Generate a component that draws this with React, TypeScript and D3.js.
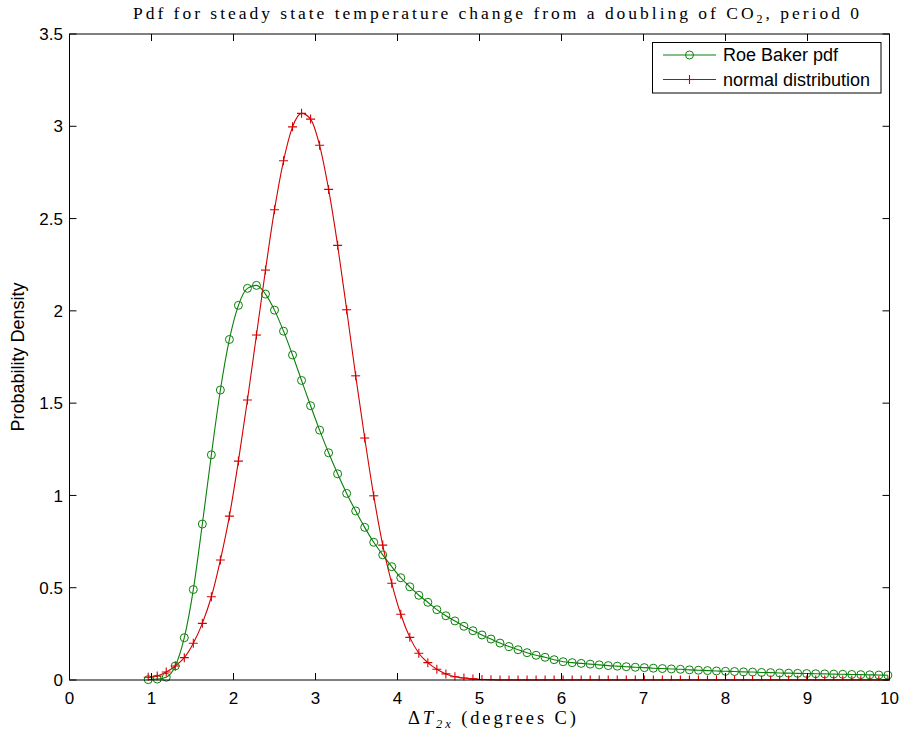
import React from "react";
import * as d3 from "d3";

const xValues = [0.96, 1.07, 1.18, 1.29, 1.40, 1.51, 1.62, 1.73, 1.84, 1.95, 2.06, 2.17, 2.28, 2.39, 2.50, 2.61, 2.72, 2.83, 2.94, 3.05, 3.16, 3.27, 3.38, 3.49, 3.60, 3.71, 3.82, 3.93, 4.04, 4.15, 4.26, 4.37, 4.48, 4.59, 4.70, 4.81, 4.92, 5.03, 5.14, 5.25, 5.36, 5.47, 5.58, 5.69, 5.80, 5.91, 6.02, 6.13, 6.24, 6.35, 6.46, 6.57, 6.68, 6.79, 6.90, 7.01, 7.12, 7.23, 7.34, 7.45, 7.56, 7.67, 7.78, 7.89, 8.00, 8.11, 8.22, 8.33, 8.44, 8.55, 8.66, 8.77, 8.88, 8.99, 9.10, 9.21, 9.32, 9.43, 9.54, 9.65, 9.76, 9.87, 9.98];

const roeBaker = [0.002, 0.005, 0.015, 0.076, 0.229, 0.49, 0.845, 1.22, 1.571, 1.845, 2.03, 2.122, 2.138, 2.091, 2.004, 1.89, 1.761, 1.623, 1.486, 1.354, 1.231, 1.117, 1.011, 0.916, 0.827, 0.746, 0.678, 0.614, 0.554, 0.505, 0.459, 0.421, 0.381, 0.348, 0.32, 0.291, 0.267, 0.244, 0.222, 0.2, 0.181, 0.164, 0.148, 0.134, 0.123, 0.11, 0.099, 0.094, 0.09, 0.086, 0.082, 0.078, 0.075, 0.072, 0.069, 0.067, 0.064, 0.062, 0.06, 0.058, 0.055, 0.053, 0.051, 0.049, 0.047, 0.046, 0.044, 0.043, 0.041, 0.04, 0.038, 0.037, 0.036, 0.035, 0.034, 0.033, 0.032, 0.031, 0.03, 0.029, 0.028, 0.027, 0.026];

const normalDist = [0.015, 0.022, 0.043, 0.076, 0.121, 0.199, 0.307, 0.451, 0.65, 0.888, 1.186, 1.517, 1.869, 2.221, 2.548, 2.813, 2.997, 3.07, 3.039, 2.897, 2.658, 2.355, 2.006, 1.648, 1.311, 0.998, 0.731, 0.524, 0.356, 0.231, 0.145, 0.094, 0.058, 0.033, 0.018, 0.011, 0.006, 0.003, 0.001, 0, 0, 0, 0, 0, 0, 0, 0, 0, 0, 0, 0, 0, 0, 0, 0, 0, 0, 0, 0, 0, 0, 0, 0, 0, 0, 0, 0, 0, 0, 0, 0, 0, 0, 0, 0, 0, 0, 0, 0, 0, 0, 0, 0];

const xTicks = [0, 1, 2, 3, 4, 5, 6, 7, 8, 9, 10];
const yTicks = [0, 0.5, 1, 1.5, 2, 2.5, 3, 3.5];
const seriesNames = ["Roe Baker pdf", "normal distribution"];

const W = 903, H = 735;
const L = 69.5, R = 889.5, T = 34, B = 680;
const GREEN = "#0a800a";
const RED = "#d40000";
const SANS = "'Liberation Sans', Arial, Helvetica, sans-serif";
const SERIF = "'Liberation Serif', 'Times New Roman', serif";

export default function App() {
  const x = d3.scaleLinear().domain([0, 10]).range([L, R]);
  const y = d3.scaleLinear().domain([0, 3.5]).range([B, T]);
  const line = d3
    .line<number>()
    .x((_, i) => x(xValues[i]))
    .y((d) => y(d))
    .curve(d3.curveMonotoneX);
  const tickLen = 7;
  const plus = 4.5;
  return (
    <svg
      width={W}
      height={H}
      style={{ position: "absolute", left: 0, top: 0, background: "#fff" }}
    >
      <rect x={0} y={0} width={W} height={H} fill="#fff" />
      <defs>
        <clipPath id="plotclip">
          <rect x={L} y={T} width={R - L} height={B - T + 0.5} />
        </clipPath>
      </defs>
      {/* data */}
      <path d={line(roeBaker) || ""} fill="none" stroke={GREEN} strokeWidth={1.1} />
      <path d={line(normalDist) || ""} fill="none" stroke={RED} strokeWidth={1.1} />
      {roeBaker.map((v, i) => (
        <circle key={"c" + i} cx={x(xValues[i])} cy={y(v)} r={4} fill="none" stroke={GREEN} strokeWidth={1} />
      ))}
      <g clipPath="url(#plotclip)">
        {normalDist.map((v, i) => {
          const cx = x(xValues[i]);
          const cy = y(v);
          return (
            <g key={"p" + i} stroke={RED} strokeWidth={1.1}>
              <line x1={cx - plus} x2={cx + plus} y1={cy} y2={cy} />
              <line x1={cx} x2={cx} y1={cy - plus} y2={cy + plus} />
            </g>
          );
        })}
      </g>
      {/* frame */}
      <rect x={L} y={T} width={R - L} height={B - T} fill="none" stroke="#000" strokeWidth={1} />
      {xTicks.map((t) => (
        <g key={"xt" + t} stroke="#000" strokeWidth={1}>
          <line x1={x(t)} x2={x(t)} y1={B} y2={B - tickLen} />
          <line x1={x(t)} x2={x(t)} y1={T} y2={T + tickLen} />
        </g>
      ))}
      {yTicks.map((t) => (
        <g key={"yt" + t} stroke="#000" strokeWidth={1}>
          <line x1={L} x2={L + tickLen} y1={y(t)} y2={y(t)} />
          <line x1={R} x2={R - tickLen} y1={y(t)} y2={y(t)} />
        </g>
      ))}
      {xTicks.map((t) => (
        <text key={"xl" + t} x={x(t)} y={704} textAnchor="middle" fontFamily={SANS} fontSize={17} fill="#000">
          {t}
        </text>
      ))}
      {yTicks.map((t) => (
        <text key={"yl" + t} x={63} y={y(t)} dy="0.36em" textAnchor="end" fontFamily={SANS} fontSize={17} fill="#000">
          {t}
        </text>
      ))}
      {/* title */}
      <text x={133} y={19} fontFamily={SERIF} fontSize={17.5} fill="#000" textLength={726} lengthAdjust="spacing">
        Pdf for steady state temperature change from a doubling of CO
        <tspan fontSize={12} dy={4}>2</tspan>
        <tspan dy={-4}>, period 0</tspan>
      </text>
      {/* x label */}
      <text x={408} y={724} fontFamily={SERIF} fontSize={18.5} fill="#000" textLength={168} lengthAdjust="spacing">
        Δ<tspan fontStyle="italic">T</tspan>
        <tspan fontStyle="italic" fontSize={12.5} dy={4}>2x</tspan>
        <tspan dy={-4}> (degrees C)</tspan>
      </text>
      {/* y label */}
      <text
        transform={`translate(24, ${(T + B) / 2}) rotate(-90)`}
        textAnchor="middle"
        fontFamily={SANS}
        fontSize={18}
        fill="#000"
      >
        Probability Density
      </text>
      {/* legend */}
      <rect x={652.5} y={42.5} width={228.5} height={50.5} fill="#fff" stroke="#000" strokeWidth={1} />
      {seriesNames.map((name, k) => {
        const ly = k === 0 ? 55 : 79.5;
        const col = k === 0 ? GREEN : RED;
        return (
          <g key={name}>
            <line x1={663} x2={716} y1={ly} y2={ly} stroke={col} strokeWidth={1.1} />
            {k === 0 ? (
              <circle cx={689.5} cy={ly} r={4} fill="none" stroke={col} strokeWidth={1} />
            ) : (
              <g stroke={col} strokeWidth={1.1}>
                <line x1={689.5 - plus} x2={689.5 + plus} y1={ly} y2={ly} />
                <line x1={689.5} x2={689.5} y1={ly - plus} y2={ly + plus} />
              </g>
            )}
            <text x={723} y={ly} dy="0.36em" fontFamily={SANS} fontSize={18} fill="#000">
              {name}
            </text>
          </g>
        );
      })}
    </svg>
  );
}
